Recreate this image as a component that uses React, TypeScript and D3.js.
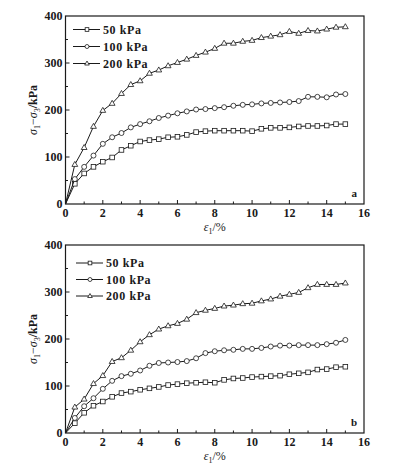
import * as d3 from "d3";

const STRAIN = [0, 0.5, 1, 1.5, 2, 2.5, 3, 3.5, 4, 4.5, 5, 5.5, 6, 6.5, 7, 7.5, 8, 8.5, 9, 9.5, 10, 10.5, 11, 11.5, 12, 12.5, 13, 13.5, 14, 14.5, 15];

const A50 = [0, 43, 65, 79, 90, 99, 115, 124, 133, 136, 138, 142, 143, 147, 153, 155, 156, 156, 156, 156, 155, 160, 162, 162, 163, 165, 166, 166, 167, 170, 170];
const A100 = [0, 53, 79, 103, 128, 142, 151, 163, 170, 176, 183, 188, 193, 197, 201, 202, 204, 206, 209, 211, 212, 214, 215, 216, 217, 219, 228, 228, 227, 233, 234];
const A200 = [0, 84, 120, 165, 199, 214, 235, 254, 262, 278, 285, 294, 301, 308, 316, 323, 331, 342, 342, 346, 348, 354, 357, 360, 367, 363, 369, 368, 372, 376, 377];

const B50 = [0, 21, 43, 58, 67, 77, 85, 88, 92, 95, 98, 102, 104, 106, 107, 108, 107, 113, 116, 117, 119, 120, 121, 122, 125, 127, 129, 135, 136, 140, 141];
const B100 = [0, 32, 57, 74, 94, 111, 121, 126, 133, 143, 149, 150, 151, 153, 159, 170, 174, 176, 177, 179, 179, 181, 184, 186, 186, 187, 187, 187, 189, 192, 198];
const B200 = [0, 55, 72, 105, 122, 152, 160, 176, 194, 209, 221, 228, 233, 242, 256, 261, 265, 270, 272, 275, 276, 281, 285, 291, 295, 299, 309, 316, 316, 316, 319];

const SERIES_LABELS = ["50 kPa", "100 kPa", "200 kPa"];
const MARKERS = ["square", "circle", "triangle"];
const X_TICKS = [0, 2, 4, 6, 8, 10, 12, 14, 16];
const Y_TICKS = [0, 100, 200, 300, 400];

const FONT = "'Liberation Serif', 'DejaVu Serif', serif";
const INK = "#1a1a1a";
const LEFT = 65.5;
const RIGHT = 364;
const PLOT_H = 188;

function Marker({ kind, x, y, s = 1 }: { kind: string; x: number; y: number; s?: number }) {
    const common = { fill: "#fff", stroke: INK, strokeWidth: 0.8 };
    if (kind === "square") return <rect x={x - 2.3 * s} y={y - 2.3 * s} width={4.6 * s} height={4.6 * s} {...common} />;
    if (kind === "circle") return <circle cx={x} cy={y} r={2.5 * s} {...common} />;
    return <path d={`M${x},${y - 3.1 * s}L${x + 2.9 * s},${y + 1.9 * s}L${x - 2.9 * s},${y + 1.9 * s}Z`} {...common} />;
}

function Panel({ top, series, tag, legendX, legendY, legendGap }: { top: number; series: number[][]; tag: string; legendX: number; legendY: number; legendGap: number }) {
    const x = d3.scaleLinear().domain([0, 16]).range([LEFT, RIGHT]);
    const y = d3.scaleLinear().domain([0, 400]).range([top + PLOT_H, top]);
    const line = d3
        .line<number>()
        .x((_, i) => x(STRAIN[i]))
        .y((d) => y(d));
    const bottom = top + PLOT_H;

    return (
        <g fontFamily={FONT} fill={INK}>
            {series.map((s, k) => (
                <g key={k}>
                    <path d={line(s) ?? ""} fill="none" stroke={INK} strokeWidth={1} />
                    {s.map((v, i) => (i === 0 ? null : <Marker key={i} kind={MARKERS[k]} x={x(STRAIN[i])} y={y(v)} />))}
                </g>
            ))}
            <rect x={LEFT} y={top} width={RIGHT - LEFT} height={PLOT_H} fill="none" stroke={INK} strokeWidth={1.2} />
            {/* inward ticks, minor at half steps */}
            {d3.range(1, 16).map((t) => (
                <line key={"xt" + t} x1={x(t)} x2={x(t)} y1={bottom} y2={bottom - (t % 2 === 0 ? 4 : 2.5)} stroke={INK} />
            ))}
            {d3.range(50, 400, 50).map((t) => (
                <line key={"yt" + t} x1={LEFT} x2={LEFT + (t % 100 === 0 ? 4 : 2.5)} y1={y(t)} y2={y(t)} stroke={INK} />
            ))}
            {X_TICKS.map((t) => (
                <text key={"xl" + t} x={x(t)} y={bottom + 13} textAnchor="middle" fontSize={12} fontWeight="bold">
                    {t}
                </text>
            ))}
            {Y_TICKS.map((t) => (
                <text key={"yl" + t} x={LEFT - 3} y={y(t) + 4} textAnchor="end" fontSize={12} fontWeight="bold">
                    {t}
                </text>
            ))}
            <text x={(LEFT + RIGHT) / 2} y={bottom + 27} textAnchor="middle" fontSize={12}>
                <tspan fontStyle="italic">ε</tspan>
                <tspan fontSize={8} dy={3}>1</tspan>
                <tspan dy={-3}>/%</tspan>
            </text>
            <text transform={`translate(37,${top + PLOT_H / 2}) rotate(-90)`} textAnchor="middle" fontSize={12}>
                <tspan fontStyle="italic">σ</tspan>
                <tspan fontSize={8} dy={3}>1</tspan>
                <tspan dy={-3}>−</tspan>
                <tspan fontStyle="italic">σ</tspan>
                <tspan fontSize={8} dy={3}>3</tspan>
                <tspan dy={-3} fontWeight="bold">/kPa</tspan>
            </text>
            <text x={RIGHT - 7} y={bottom - 7} textAnchor="end" fontSize={11} fontWeight="bold">
                {tag}
            </text>
            {SERIES_LABELS.map((lab, k) => {
                const ly = legendY + k * legendGap;
                return (
                    <g key={lab}>
                        <line x1={legendX} x2={legendX + 27} y1={ly} y2={ly} stroke={INK} />
                        <Marker kind={MARKERS[k]} x={legendX + 14} y={ly} s={0.8} />
                        <text x={legendX + 30} y={ly + 4} fontSize={12} fontWeight="bold" letterSpacing={0.6}>
                            {lab}
                        </text>
                    </g>
                );
            })}
        </g>
    );
}

export default function App() {
    return (
        <svg width={399} height={469} style={{ position: "absolute", left: 0, top: 0, background: "#fff" }}>
            <Panel top={16} series={[A50, A100, A200]} tag="a" legendX={73} legendY={29.5} legendGap={17} />
            <Panel top={245} series={[B50, B100, B200]} tag="b" legendX={76} legendY={263} legendGap={16.5} />
        </svg>
    );
}
